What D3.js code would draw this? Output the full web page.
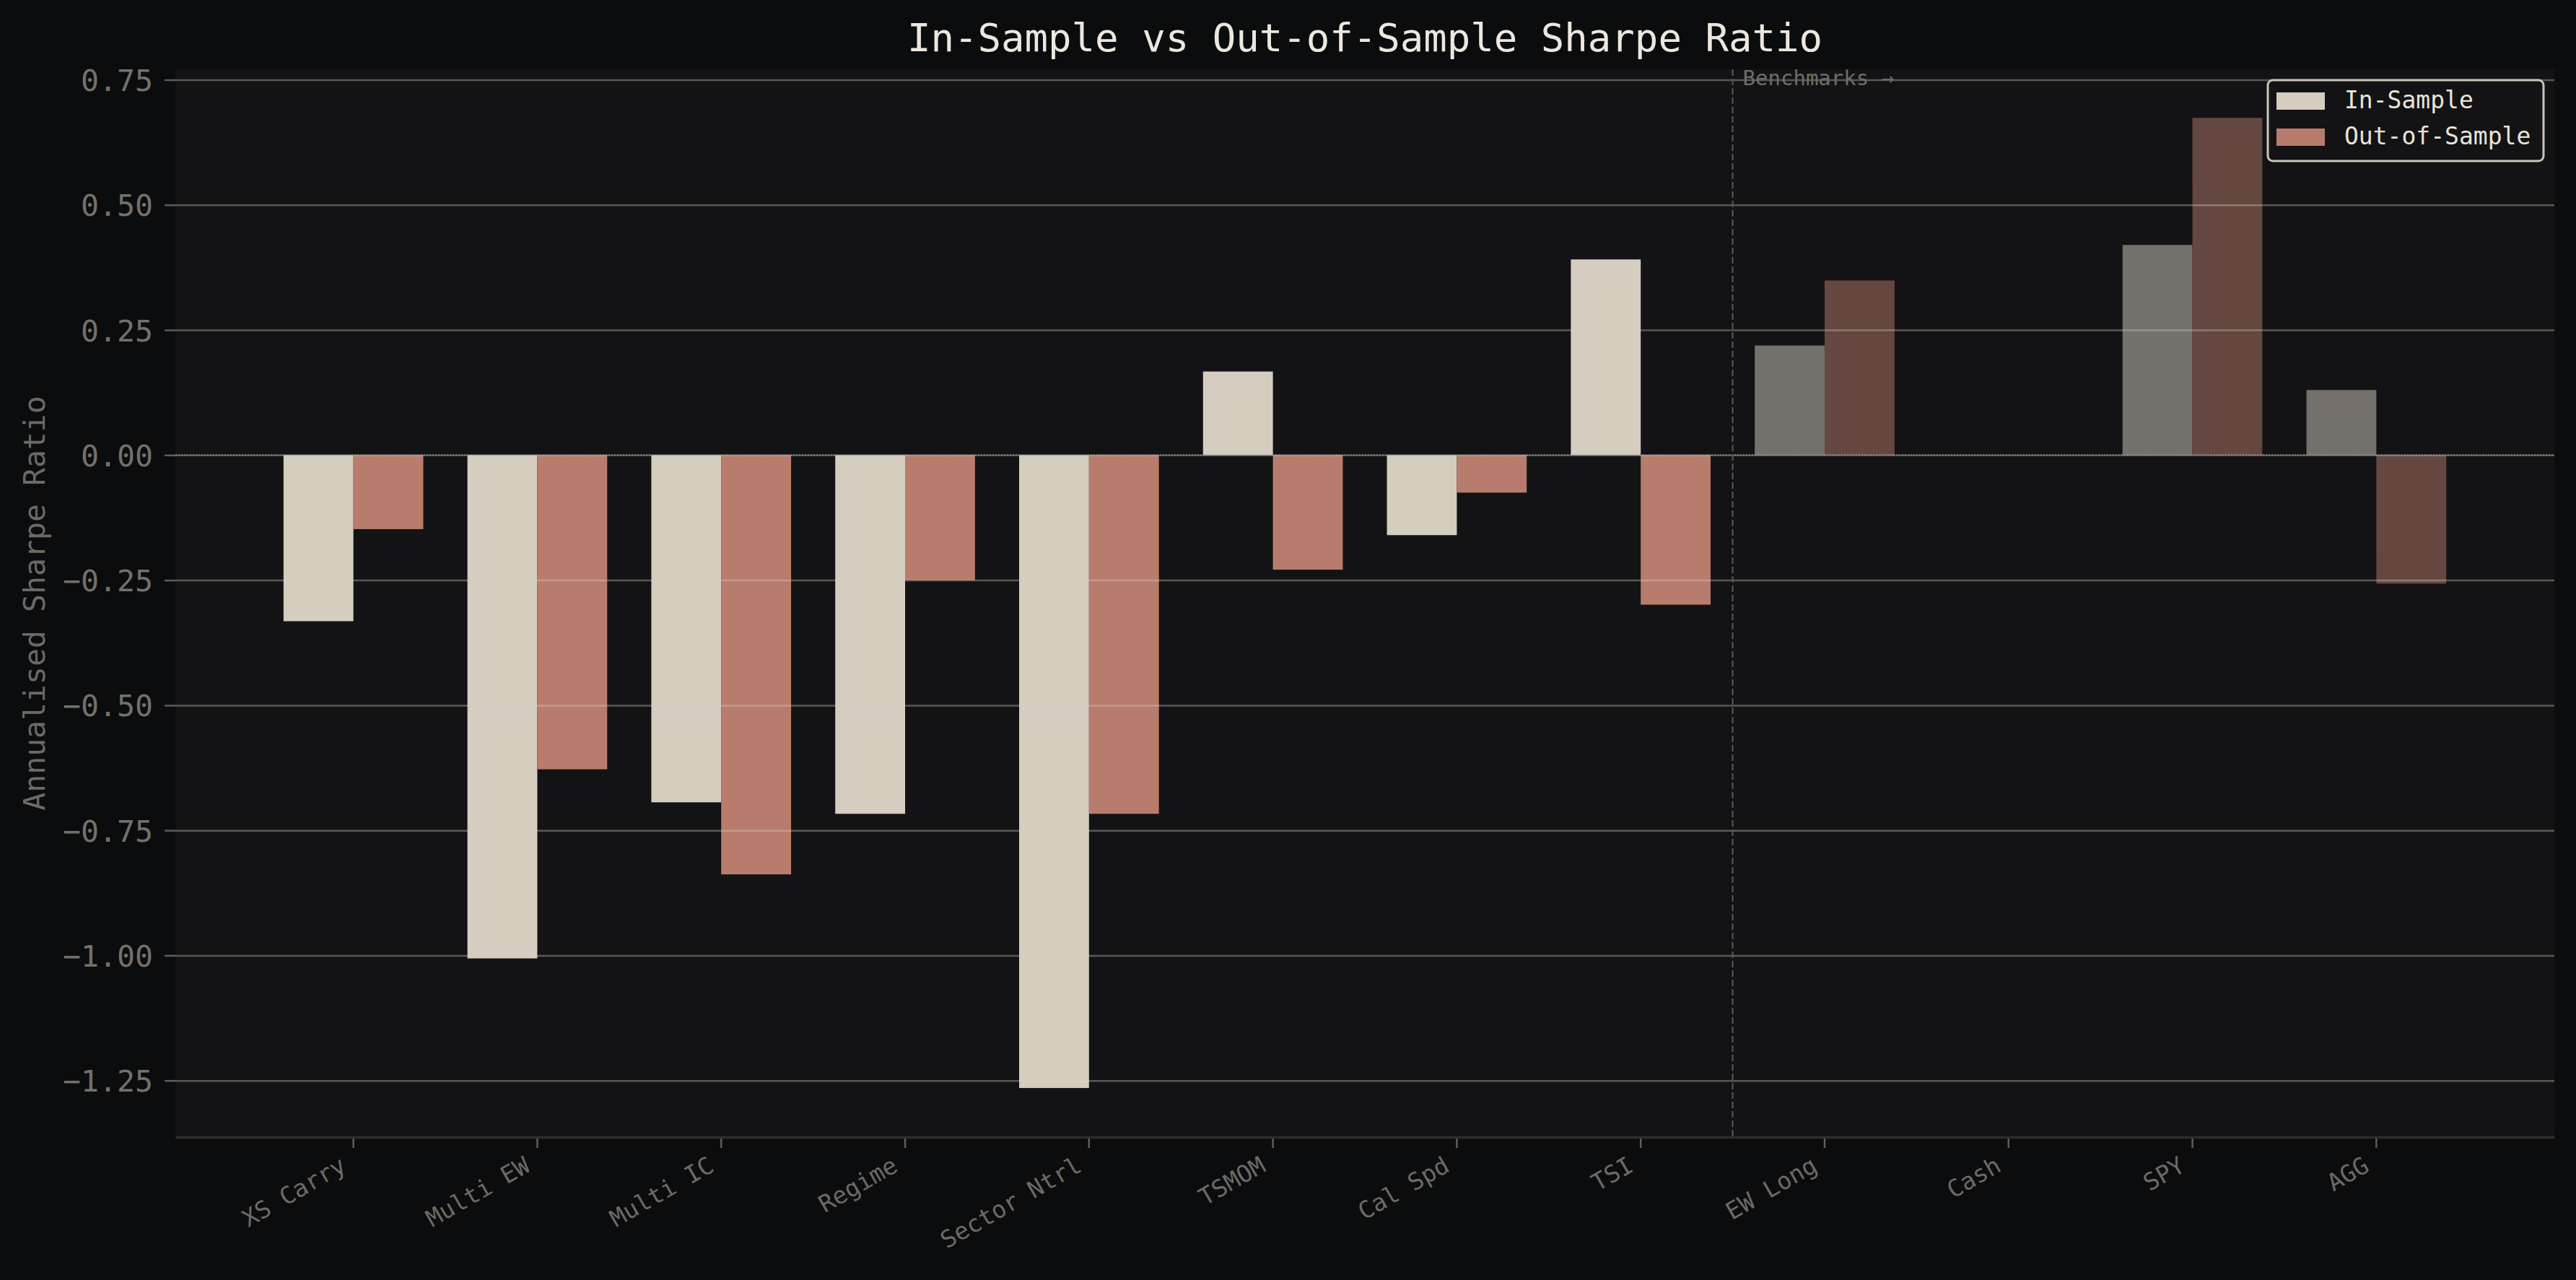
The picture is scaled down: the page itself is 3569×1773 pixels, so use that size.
<!DOCTYPE html>
<html>
<head>
<meta charset="utf-8">
<script src="https://cdn.jsdelivr.net/npm/d3@7"></script>
<style>
  body { margin: 0; background: #0b0c0e; }
  svg { display: block; }
  text { font-family: "DejaVu Sans Mono", monospace; }
</style>
</head>
<body>
<svg id="chart"></svg>
<script>
const categories = ["XS Carry", "Multi EW", "Multi IC", "Regime", "Sector Ntrl", "TSMOM", "Cal Spd", "TSI", "EW Long", "Cash", "SPY", "AGG"];
const inSample = [-0.332, -1.006, -0.694, -0.717, -1.265, 0.167, -0.160, 0.391, 0.219, 0.0, 0.420, 0.130];
const outOfSample = [-0.148, -0.628, -0.838, -0.250, -0.717, -0.229, -0.075, -0.299, 0.349, 0.0, 0.674, -0.257];
const benchmarks = ["EW Long", "Cash", "SPY", "AGG"];
const yTicks = [0.75, 0.5, 0.25, 0, -0.25, -0.5, -0.75, -1.0, -1.25];
const seriesNames = ["In-Sample", "Out-of-Sample"];
const seriesColors = ["#d4cdc0", "#b87c6d"];

drawChart();

function drawChart() {
  const width = 3569;
  const height = 1773;
  const left = 243, right = 3539, top = 96, bottom = 1575;

  const svg = d3.select("#chart")
    .attr("width", width)
    .attr("height", height);

  svg.append("rect")
    .attr("width", width)
    .attr("height", height)
    .attr("fill", "#0b0c0e");

  // plot area
  svg.append("rect")
    .attr("x", left)
    .attr("y", top)
    .attr("width", right - left)
    .attr("height", bottom - top)
    .attr("fill", "#131315");

  const xScale = d3.scaleBand()
    .domain(categories)
    .range([left, right])
    .paddingInner(0)
    .paddingOuter(0.468);

  const yScale = d3.scaleLinear()
    .domain([-1.363, 0.771])
    .range([bottom, top]);

  const barW = xScale.step() * 0.38;
  const center = d => xScale(d) + xScale.bandwidth() / 2;

  const rows = categories.map((c, i) => ({
    cat: c,
    values: [inSample[i], outOfSample[i]],
    bench: benchmarks.includes(c)
  }));

  const groups = svg.append("g")
    .selectAll("g")
    .data(rows)
    .enter()
    .append("g")
    .attr("opacity", d => d.bench ? 0.5 : 1);

  groups.selectAll("rect")
    .data(d => d.values.map((v, k) => ({ cat: d.cat, v: v, k: k })))
    .enter()
    .append("rect")
    .attr("x", d => center(d.cat) + (d.k === 0 ? -barW : 0))
    .attr("y", d => yScale(Math.max(0, d.v)))
    .attr("width", barW)
    .attr("height", d => Math.abs(yScale(d.v) - yScale(0)))
    .attr("fill", d => seriesColors[d.k]);

  // grid on top of the bars
  const grid = svg.append("g")
    .attr("transform", `translate(${left}, 0)`)
    .call(d3.axisLeft(yScale).tickValues(yTicks).tickSize(-(right - left)).tickFormat(""));
  grid.select(".domain").remove();
  grid.selectAll("line")
    .attr("stroke", "#d8d4c8")
    .attr("stroke-opacity", 0.36)
    .attr("stroke-width", 2.5);

  svg.append("line")
    .attr("x1", left)
    .attr("x2", right)
    .attr("y1", yScale(0))
    .attr("y2", yScale(0))
    .attr("stroke", "#a09c94")
    .attr("stroke-width", 2)
    .attr("stroke-dasharray", "2,2")
    .attr("opacity", 0.6);

  // y axis
  const yAxis = svg.append("g")
    .attr("transform", `translate(${left}, 0)`)
    .call(d3.axisLeft(yScale).tickValues(yTicks).tickSize(15).tickPadding(16).tickFormat(d3.format(".2f")));
  yAxis.select(".domain").remove();
  yAxis.selectAll("line").attr("stroke", "#5e5e5e").attr("stroke-width", 2.5);
  yAxis.selectAll("text")
    .attr("fill", "#73716c")
    .style("font-size", "41.5px")
    .attr("dy", "0.36em");

  // x axis
  const xAxis = svg.append("g")
    .attr("transform", `translate(0, ${bottom})`)
    .call(d3.axisBottom(xScale).tickSize(15).tickSizeOuter(0));
  xAxis.select(".domain")
    .attr("stroke", "#2f2e2c")
    .attr("stroke-width", 3.5);
  xAxis.selectAll(".tick line")
    .attr("stroke", "#5e5e5e")
    .attr("stroke-width", 2.5)
    .attr("y1", 2);
  xAxis.selectAll("text")
    .attr("fill", "#6b6a66")
    .style("font-size", "33px")
    .attr("text-anchor", "end")
    .attr("dy", 0)
    .attr("y", 0)
    .attr("transform", "translate(-8, 46) rotate(-30)");

  // benchmark divider
  const divX = (center("TSI") + center("EW Long")) / 2;
  svg.append("line")
    .attr("x1", divX)
    .attr("x2", divX)
    .attr("y1", top)
    .attr("y2", bottom)
    .attr("stroke", "#5a5a5a")
    .attr("stroke-width", 2)
    .attr("stroke-dasharray", "9,4");

  svg.append("text")
    .attr("x", divX + 14)
    .attr("y", 118)
    .attr("fill", "#6e6d69")
    .style("font-size", "29px")
    .text("Benchmarks \u2192");

  // title
  svg.append("text")
    .attr("x", (left + right) / 2)
    .attr("y", 71)
    .attr("text-anchor", "middle")
    .attr("fill", "#ece8df")
    .style("font-size", "54px")
    .text("In-Sample vs Out-of-Sample Sharpe Ratio");

  // y label
  svg.append("text")
    .attr("transform", `translate(62, ${(top + bottom) / 2}) rotate(-90)`)
    .attr("text-anchor", "middle")
    .attr("fill", "#6b6a66")
    .style("font-size", "41.5px")
    .text("Annualised Sharpe Ratio");

  // legend
  const legend = svg.append("g").attr("transform", "translate(3142, 111)");
  legend.append("rect")
    .attr("width", 382)
    .attr("height", 112)
    .attr("rx", 7)
    .attr("fill", "#131315")
    .attr("stroke", "#c9c5bb")
    .attr("stroke-width", 3);

  const items = legend.selectAll("g.item")
    .data(seriesNames)
    .enter()
    .append("g")
    .attr("class", "item")
    .attr("transform", (d, i) => `translate(12, ${17 + i * 50})`);

  items.append("rect")
    .attr("width", 67)
    .attr("height", 24)
    .attr("fill", (d, i) => seriesColors[i]);

  items.append("text")
    .attr("x", 94)
    .attr("y", 22)
    .attr("fill", "#e8e4da")
    .style("font-size", "33px")
    .text(d => d);
}
</script>
</body>
</html>
